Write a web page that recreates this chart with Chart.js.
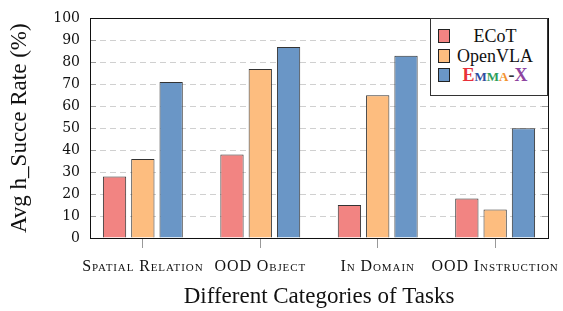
<!DOCTYPE html>
<html>
<head>
<meta charset="utf-8">
<script src="https://cdn.jsdelivr.net/npm/chart.js@4"></script>
<style>
  html, body { margin: 0; padding: 0; background: #fff; }
  #wrap { position: relative; width: 563px; height: 311px; }
  #legend {
    position: absolute; left: 430px; top: 18px; width: 116px; height: 76px;
    border: 1px solid #333; background: #fff;
    font-family: 'Liberation Serif', serif; font-size: 18px; color: #111;
  }
  #legend .row { position: absolute; left: 0; width: 100%; height: 20px; line-height: 20px; }
  #legend .sw { position: absolute; left: 7px; top: 3px; width: 12px; height: 14px; border: 1px solid #222; box-sizing: border-box; }
  #legend .lbl { position: absolute; left: 22px; right: 10px; text-align: center; white-space: nowrap; }
  .sc { font-variant: small-caps; }
  .xlab {
    position: absolute; top: 257px; transform: translateX(-50%);
    font-family: 'Liberation Serif', serif; font-size: 16px; letter-spacing: 0.9px;
    font-variant: small-caps; color: #111; white-space: nowrap;
  }
</style>
</head>
<body>
<div id="wrap">
  <canvas id="chart" width="563" height="311"></canvas>
  <div id="legend"></div>
</div>
<script>
/* ── Data ── */
const categories = ['Spatial Relation', 'OOD Object', 'In Domain', 'OOD Instruction'];
const ecot       = [28, 38, 15, 18];
const openvla    = [36, 77, 65, 13];
const emmax      = [71, 87, 83, 50];
const yTicks     = [0, 10, 20, 30, 40, 50, 60, 70, 80, 90, 100];

const seriesNames  = ['ECoT', 'OpenVLA', 'Emma-X'];
const seriesColors = ['#F28482', '#FDBD7F', '#6A96C6'];

const SERIF = "'Liberation Serif', serif";

/* ── Frame + inner y ticks ── */
const framePlugin = {
  id: 'frame',
  afterDatasetsDraw(chart) {
    const { ctx, chartArea: a, scales: { y } } = chart;
    ctx.save();
    ctx.strokeStyle = '#999';
    ctx.lineWidth = 1;
    yTicks.forEach(v => {
      const py = Math.round(y.getPixelForValue(v)) + 0.5;
      ctx.beginPath();
      ctx.moveTo(a.left, py); ctx.lineTo(a.left + 6, py);
      ctx.moveTo(a.right, py); ctx.lineTo(a.right - 6, py);
      ctx.stroke();
    });
    ctx.strokeStyle = '#111';
    ctx.strokeRect(Math.round(a.left) + 0.5, Math.round(a.top) + 0.5,
                   Math.round(a.right - a.left), Math.round(a.bottom - a.top));
    ctx.restore();
  }
};

/* ── Small-caps category labels as HTML, placed by the x scale ── */
const xLabelPlugin = {
  id: 'xlabels',
  afterRender(chart) {
    const wrap = document.getElementById('wrap');
    wrap.querySelectorAll('.xlab').forEach(n => n.remove());
    const x = chart.scales.x;
    categories.forEach((c, i) => {
      const el = document.createElement('div');
      el.className = 'xlab';
      el.textContent = c;
      el.style.left = x.getPixelForValue(i) + 'px';
      wrap.appendChild(el);
    });
  }
};

const toPoints = arr => arr.map((v, i) => ({ x: i, y: v }));

new Chart(document.getElementById('chart'), {
  type: 'bar',
  data: {
    datasets: [ecot, openvla, emmax].map((d, i) => ({
      label: seriesNames[i],
      data: toPoints(d),
      backgroundColor: seriesColors[i],
      borderColor: '#333',
      borderWidth: 1,
      categoryPercentage: 0.723,
      barPercentage: 0.823,
    }))
  },
  options: {
    responsive: false,
    animation: false,
    layout: { padding: { top: 17, right: 15, bottom: 0, left: 0 } },
    plugins: { legend: { display: false }, tooltip: { enabled: false } },
    scales: {
      x: {
        type: 'linear',
        min: -0.45,
        max: 3.45,
        offset: false,
        afterBuildTicks: s => { s.ticks = categories.map((_, i) => ({ value: i })); },
        afterFit: s => { s.height = 73; },
        grid: { offset: false, drawOnChartArea: false, drawTicks: true, tickLength: 10, tickColor: '#999' },
        border: { display: false },
        ticks: { display: false },
        title: {
          display: true,
          text: 'Different Categories of Tasks',
          color: '#111',
          font: { family: SERIF, size: 23 },
          padding: { top: 0, bottom: 0 }
        }
      },
      y: {
        min: 0,
        max: 100,
        afterBuildTicks: s => { s.ticks = yTicks.map(v => ({ value: v })); },
        afterFit: s => { s.width = 90; },
        grid: { color: '#d0d0d0', drawTicks: false, lineWidth: 1 },
        border: { display: false, dash: [6, 4] },
        ticks: {
          padding: 10,
          color: '#111',
          font: { family: "'DejaVu Serif', serif", size: 14 }
        },
        title: {
          display: true,
          text: 'Avg h_Succe Rate (%)',
          color: '#111',
          font: { family: SERIF, size: 23 },
          padding: { top: 6, bottom: 0 }
        }
      }
    }
  },
  plugins: [framePlugin, xLabelPlugin]
});

/* ── Legend (HTML so the Emma-X name can be coloured per letter) ── */
const legend = document.getElementById('legend');
seriesNames.forEach((name, i) => {
  const row = document.createElement('div');
  row.className = 'row';
  row.style.top = (7 + i * 19.5) + 'px';
  const sw = document.createElement('div');
  sw.className = 'sw';
  sw.style.background = seriesColors[i];
  const lbl = document.createElement('div');
  lbl.className = 'lbl';
  if (name === 'Emma-X') {
    lbl.classList.add('sc');
    lbl.style.fontWeight = 'bold';
    lbl.innerHTML =
      '<span style="color:#E8303A">E</span>' +
      '<span style="color:#2F4CA0">m</span>' +
      '<span style="color:#2E9E5B">m</span>' +
      '<span style="color:#F39230">a</span>' +
      '<span style="color:#333">-</span>' +
      '<span style="color:#8E44A0">X</span>';
  } else {
    lbl.textContent = name;
  }
  row.appendChild(sw);
  row.appendChild(lbl);
  legend.appendChild(row);
});
</script>
</body>
</html>
